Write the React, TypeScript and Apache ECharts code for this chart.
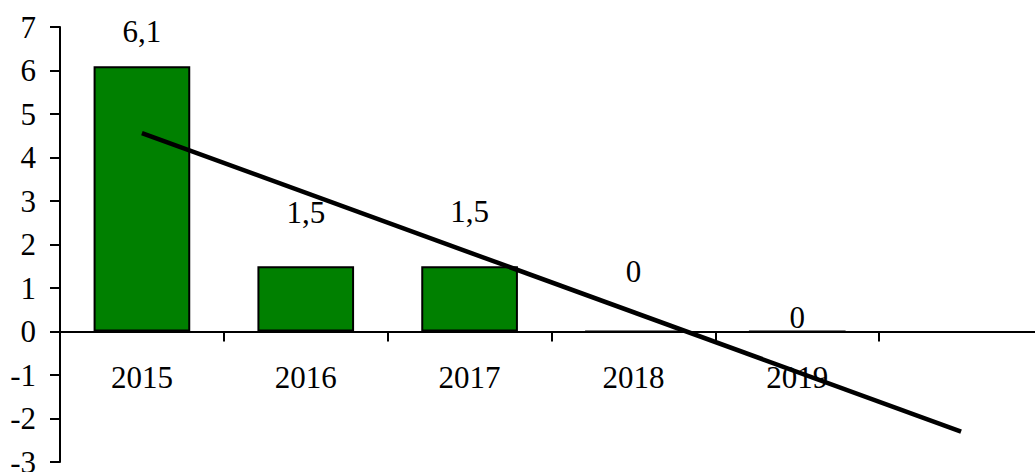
import React, { useEffect, useRef } from "react";
import * as echarts from "echarts";

const categories = ["2015", "2016", "2017", "2018", "2019", ""];
const values = [6.1, 1.5, 1.5, 0, 0];
const valueLabels = ["6,1", "1,5", "1,5", "0", "0"];
const trendStart = 4.56;
const trendEnd = -2.3;
const yTicks = { min: -3, max: 7, interval: 1 };

const labelDistances = [19, 38, 39, 44, -2];
const FONT = "Liberation Serif";

export default function App() {
  const ref = useRef<HTMLDivElement>(null);
  useEffect(() => {
    const chart = echarts.init(ref.current!, null, { renderer: "svg" });
    const trend = categories.map((_, i) =>
      i === 0 ? trendStart : i === categories.length - 1 ? trendEnd : null
    );
    const gridTop = 27;
    const gridBottom = 10;
    const plotH = 472 - gridTop - gridBottom;
    const zeroOffset = -plotH * (0 - yTicks.min) / (yTicks.max - yTicks.min);
    chart.setOption({
      animation: false,
      grid: {
        left: 60,
        top: gridTop,
        bottom: gridBottom,
        right: -8,
        containLabel: false,
        outerBoundsMode: "none",
      },
      xAxis: {
        type: "category",
        data: categories,
        boundaryGap: true,
        offset: zeroOffset,
        axisLine: { onZero: false, lineStyle: { color: "#000", width: 2 } },
        axisTick: { show: true, length: 10, inside: false, lineStyle: { color: "#000", width: 2 } },
        axisLabel: { fontFamily: FONT, fontSize: 31, color: "#000", margin: 30 },
        splitLine: { show: false },
      },
      yAxis: {
        type: "value",
        min: yTicks.min,
        max: yTicks.max,
        interval: yTicks.interval,
        axisLine: { show: true, lineStyle: { color: "#000", width: 2 } },
        axisTick: { show: true, length: 10, lineStyle: { color: "#000", width: 2 } },
        axisLabel: { fontFamily: FONT, fontSize: 31, color: "#000", margin: 24 },
        splitLine: { show: false },
      },
      series: [
        {
          type: "bar",
          data: values.map((v, i) => ({
            value: v,
            label: {
              show: true,
              position: "top",
              distance: labelDistances[i],
              formatter: valueLabels[i],
              fontFamily: FONT,
              fontSize: 31,
              color: "#000",
            },
          })),
          barWidth: "59%",
          itemStyle: { color: "#008000", borderColor: "#000", borderWidth: 2 },
          z: 2,
        },
        {
          type: "line",
          data: trend,
          connectNulls: true,
          symbol: "none",
          lineStyle: { color: "#000", width: 4.5 },
          z: 3,
        },
      ],
    });
    return () => chart.dispose();
  }, []);
  return (
    <div
      ref={ref}
      style={{ position: "fixed", left: 0, top: 0, width: 1035, height: 472, background: "#fff" }}
    />
  );
}
